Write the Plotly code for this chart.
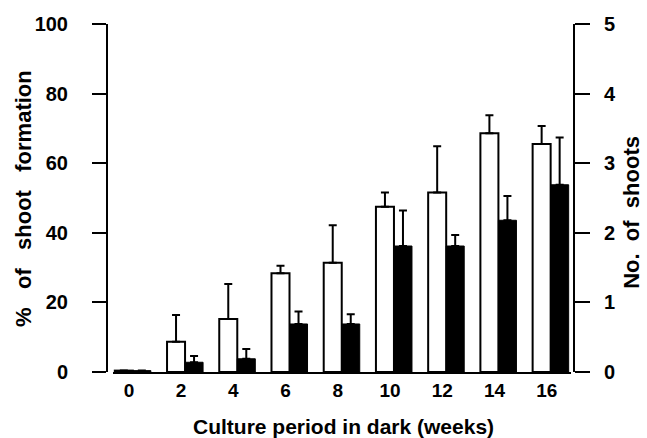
import plotly.graph_objects as go

weeks = [0, 2, 4, 6, 8, 10, 12, 14, 16]
tick_labels = ["0", "2", "4", "6", "8", "10", "12", "14", "16"]

# % of shoot formation (white bars, left axis)
pct_shoot = [0.4, 8.7, 15.2, 28.4, 31.4, 47.5, 51.6, 68.6, 65.5]
pct_err = [0, 7.7, 10.1, 2.1, 10.8, 4.1, 13.3, 5.2, 5.2]

# No. of shoots (black bars, right axis)
n_shoots = [0.02, 0.14, 0.19, 0.69, 0.69, 1.81, 1.81, 2.18, 2.69]
n_err = [0, 0.09, 0.14, 0.18, 0.14, 0.51, 0.16, 0.35, 0.68]

font = "Liberation Sans, Arial, sans-serif"

fig = go.Figure()
fig.add_trace(go.Bar(
    x=weeks, y=pct_shoot, width=0.69, offset=-0.54,
    marker=dict(color="white", line=dict(color="black", width=2)),
    error_y=dict(type="data", array=pct_err, symmetric=False,
                 arrayminus=[0] * len(weeks), color="black", thickness=2, width=4),
    yaxis="y", showlegend=False,
))
fig.add_trace(go.Bar(
    x=weeks, y=n_shoots, width=0.69, offset=0.15,
    marker=dict(color="black", line=dict(color="black", width=1)),
    error_y=dict(type="data", array=n_err, symmetric=False,
                 arrayminus=[0] * len(weeks), color="black", thickness=2, width=4),
    yaxis="y2", showlegend=False,
))

fig.update_layout(
    width=647, height=438,
    margin=dict(l=107, r=73, t=24, b=66, autoexpand=False),
    paper_bgcolor="white", plot_bgcolor="white",
    font=dict(family=font, size=18, color="black"),
    xaxis=dict(
        range=[-0.61, 16.93], domain=[0.0128, 0.9936],
        tickvals=weeks, ticktext=tick_labels,
        showline=True, linecolor="black", linewidth=2,
        ticks="", showgrid=False, zeroline=False, automargin=False,
        tickfont=dict(family=font, size=19, color="black", weight="bold"),
        ticklabelstandoff=0,
    ),
    yaxis=dict(
        range=[0, 100], tickvals=[0, 20, 40, 60, 80, 100],
        anchor="free", position=0, automargin=False,
        showline=True, linecolor="black", linewidth=2,
        ticks="outside", ticklen=14, tickwidth=2, tickcolor="black",
        showgrid=False, zeroline=False,
        tickfont=dict(family=font, size=20, color="black", weight="bold"),
        ticklabelstandoff=20,
    ),
    yaxis2=dict(
        range=[0, 5], tickvals=[0, 1, 2, 3, 4, 5],
        overlaying="y", side="right", anchor="free", position=1, automargin=False,
        showline=True, linecolor="black", linewidth=2,
        ticks="outside", ticklen=15, tickwidth=2, tickcolor="black",
        showgrid=False, zeroline=False,
        tickfont=dict(family=font, size=20, color="black", weight="bold"),
        ticklabelstandoff=10,
    ),
    annotations=[
        dict(text="<b>%   of   shoot   formation</b>", textangle=-90,
             xref="paper", yref="paper", x=-0.18, y=0.5,
             xanchor="center", yanchor="middle", showarrow=False,
             font=dict(family=font, size=22, color="black")),
        dict(text="<b>No.  of  shoots</b>", textangle=-90,
             xref="paper", yref="paper", x=1.124, y=0.46,
             xanchor="center", yanchor="middle", showarrow=False,
             font=dict(family=font, size=22, color="black")),
        dict(text="<b>Culture period in dark (weeks)</b>",
             xref="paper", yref="paper", x=0.507, y=-0.158,
             xanchor="center", yanchor="middle", showarrow=False,
             font=dict(family=font, size=21, color="black")),
    ],
    bargap=0.3,
)

fig.write_html("out.html", config={"displayModeBar": False},
               post_script="document.body.style.margin='0';")
